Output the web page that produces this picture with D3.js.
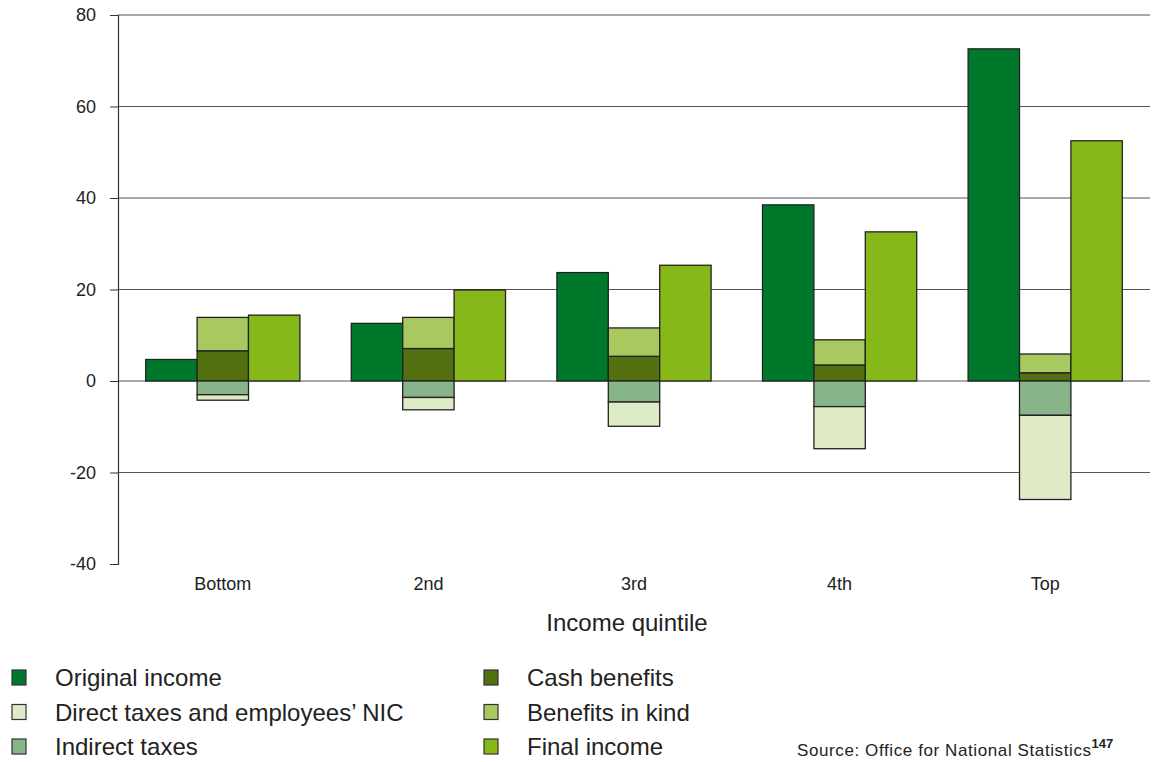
<!DOCTYPE html>
<html>
<head>
<meta charset="utf-8">
<script src="https://cdn.jsdelivr.net/npm/d3@7"></script>
<style>
  body { margin: 0; background: #fff; }
  text { font-family: "Liberation Sans", Arial, Helvetica, sans-serif; fill: #222; }
</style>
</head>
<body>
<div id="chart"></div>
<script>
/* DATA */
const quintiles = ["Bottom", "2nd", "3rd", "4th", "Top"];
const originalIncome = [4.7, 12.6, 23.7, 38.5, 72.6];
const cashBenefits = [6.6, 7.1, 5.4, 3.5, 1.8];
const benefitsInKind = [7.3, 6.8, 6.2, 5.5, 4.1];
const indirectTaxes = [-3.0, -3.6, -4.6, -5.6, -7.5];
const directTaxes = [-1.2, -2.7, -5.3, -9.2, -18.4];
const finalIncome = [14.4, 19.9, 25.3, 32.6, 52.5];
const yTicks = [-40, -20, 0, 20, 40, 60, 80];

const legendItems = [
  { name: "Original income", color: "#00782c" },
  { name: "Direct taxes and employees\u2019 NIC", color: "#dfeac7" },
  { name: "Indirect taxes", color: "#88b48a" },
  { name: "Cash benefits", color: "#527010" },
  { name: "Benefits in kind", color: "#a8c960" },
  { name: "Final income", color: "#86b81a" }
];
const colorOf = Object.fromEntries(legendItems.map(d => [d.name, d.color]));

/* LAYOUT */
const width = 1157, height = 762;
const margin = { top: 15, left: 118, right: 8, bottom: 198 };

const svg = d3.select("#chart").append("svg")
  .attr("width", width)
  .attr("height", height);

const xScale = d3.scaleBand()
  .domain(quintiles)
  .range([margin.left + 2, width - margin.right - 1])
  .padding(0);

// three bars per group, half a bar of space either side
const inner = d3.scaleBand()
  .domain(["orig", "mid", "final"])
  .range([0, xScale.bandwidth()])
  .paddingInner(0)
  .paddingOuter(0.5);

const yScale = d3.scaleLinear()
  .domain([-40, 80])
  .range([height - margin.bottom, margin.top]);

// gridlines
svg.append("g")
  .selectAll("line")
  .data(yTicks.filter(d => d !== -40))
  .join("line")
  .attr("x1", margin.left)
  .attr("x2", width - 7)
  .attr("y1", d => yScale(d))
  .attr("y2", d => yScale(d))
  .attr("stroke", "#555")
  .attr("stroke-width", 1);

// y axis
const yAxis = d3.axisLeft(yScale).tickValues(yTicks).tickSize(8).tickPadding(14).tickFormat(d => String(d));
const yG = svg.append("g")
  .attr("transform", `translate(${margin.left}, 0)`)
  .call(yAxis);
yG.select(".domain").attr("stroke", "#333").attr("stroke-width", 1.2);
yG.selectAll(".tick line").attr("stroke", "#333");
yG.selectAll(".tick text").style("font-size", "18px").attr("fill", "#222");

// build bar rects
const rows = [];
quintiles.forEach((q, i) => {
  rows.push({ q, slot: "orig", y0: 0, y1: originalIncome[i], key: "Original income" });
  rows.push({ q, slot: "mid", y0: 0, y1: cashBenefits[i], key: "Cash benefits" });
  rows.push({ q, slot: "mid", y0: cashBenefits[i], y1: cashBenefits[i] + benefitsInKind[i], key: "Benefits in kind" });
  rows.push({ q, slot: "mid", y0: 0, y1: indirectTaxes[i], key: "Indirect taxes" });
  rows.push({ q, slot: "mid", y0: indirectTaxes[i], y1: indirectTaxes[i] + directTaxes[i], key: "Direct taxes and employees\u2019 NIC" });
  rows.push({ q, slot: "final", y0: 0, y1: finalIncome[i], key: "Final income" });
});

svg.append("g")
  .selectAll("rect")
  .data(rows)
  .join("rect")
  .attr("x", d => xScale(d.q) + inner(d.slot))
  .attr("width", inner.bandwidth())
  .attr("y", d => yScale(Math.max(d.y0, d.y1)))
  .attr("height", d => Math.abs(yScale(d.y0) - yScale(d.y1)))
  .attr("fill", d => colorOf[d.key])
  .attr("stroke", "#222")
  .attr("stroke-width", 1.3);

// x axis labels
svg.append("g")
  .selectAll("text")
  .data(quintiles)
  .join("text")
  .attr("x", d => xScale(d) + xScale.bandwidth() / 2)
  .attr("y", 590)
  .attr("text-anchor", "middle")
  .style("font-size", "18px")
  .text(d => d);

svg.append("text")
  .attr("x", 627)
  .attr("y", 631)
  .attr("text-anchor", "middle")
  .style("font-size", "24px")
  .text("Income quintile");

// legend
const legend = svg.append("g");
const leg = legend.selectAll("g")
  .data(legendItems)
  .join("g")
  .attr("transform", (d, i) => `translate(${i < 3 ? 12 : 484}, ${670 + (i % 3) * 34.5})`);
leg.append("rect")
  .attr("width", 14)
  .attr("height", 15)
  .attr("fill", d => d.color)
  .attr("stroke", "#333")
  .attr("stroke-width", 1.2);
leg.append("text")
  .attr("x", 43)
  .attr("y", 16)
  .style("font-size", "24px")
  .text(d => d.name);

// source
const src = svg.append("text")
  .attr("x", 797)
  .attr("y", 756)
  .style("font-size", "17px")
  .style("letter-spacing", "0.6px");
src.append("tspan").text("Source: Office for National Statistics");
src.append("tspan")
  .attr("dy", -8)
  .style("font-size", "13px")
  .style("font-weight", "bold")
  .style("letter-spacing", "0px")
  .text("147");
</script>
</body>
</html>
